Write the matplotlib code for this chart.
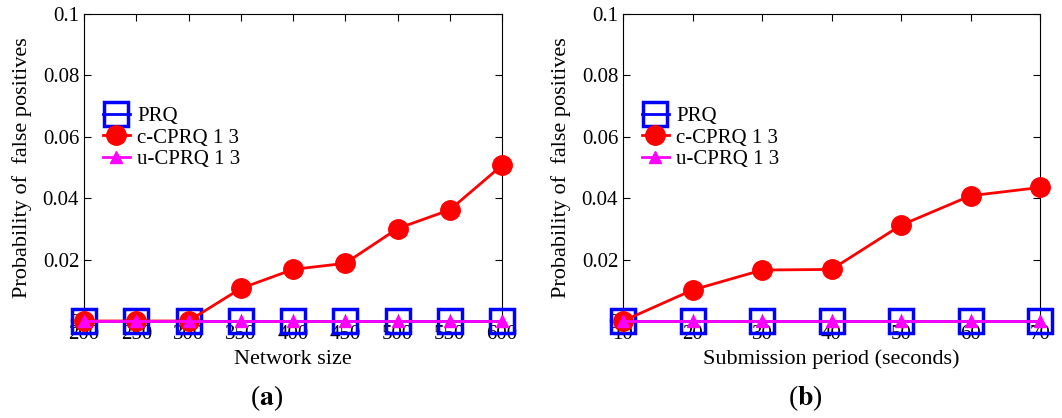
import numpy as np
import matplotlib.pyplot as plt

plt.rcParams['font.family'] = ['Liberation Serif', 'DejaVu Serif']
plt.rcParams['mathtext.fontset'] = 'stix'

# data
net_size = [200, 250, 300, 350, 400, 450, 500, 550, 600]
prq_a = [0, 0, 0, 0, 0, 0, 0, 0, 0]
ccprq_a = [0, 0, 0, 0.0106, 0.0168, 0.0188, 0.0301, 0.0362, 0.0507]
ucprq_a = [0, 0, 0, 0, 0, 0, 0, 0, 0]

period = [10, 20, 30, 40, 50, 60, 70]
prq_b = [0, 0, 0, 0, 0, 0, 0]
ccprq_b = [0, 0.0101, 0.0166, 0.0168, 0.0312, 0.0408, 0.0435]
ucprq_b = [0, 0, 0, 0, 0, 0, 0]

yticks = [0, 0.02, 0.04, 0.06, 0.08, 0.1]
ytick_labels = ['0', '0.02', '0.04', '0.06', '0.08', '0.1']

fig = plt.figure(figsize=(10.62, 4.18), dpi=100)
ax1 = fig.add_axes([84 / 1062, 1 - 321 / 418, 418 / 1062, 307 / 418])
ax2 = fig.add_axes([623 / 1062, 1 - 321 / 418, 417 / 1062, 307 / 418])


def draw(ax, x, prq, cc, uc, xlabel, tag, tag_x):
    ax.plot(x, prq, color='blue', lw=2, marker='s', ms=17, mfc='none',
            mec='blue', mew=2.5, clip_on=False, label='PRQ', zorder=3)
    ax.plot(x, cc, color='red', lw=2, marker='o', ms=14, mfc='red',
            mec='red', clip_on=False, label='c-CPRQ 1 3', zorder=4)
    ax.plot(x, uc, color='magenta', lw=2, marker='^', ms=8, mfc='magenta',
            mec='magenta', clip_on=False, label='u-CPRQ 1 3', zorder=5)
    ax.set_xlim(x[0], x[-1])
    ax.set_ylim(0, 0.1)
    ax.set_xticks(x)
    ax.set_yticks(yticks)
    ax.set_yticklabels(ytick_labels)
    ax.tick_params(direction='in', top=True, right=True, labelsize=15,
                   length=5, width=0.8)
    ax.tick_params(axis='x', pad=3)
    ax.set_xlabel(xlabel, fontsize=16, labelpad=4)
    ax.set_ylabel('Probability of  false positives', fontsize=16, labelpad=8)
    ax.legend(loc='upper left', bbox_to_anchor=(-0.015, 0.78), frameon=False,
              fontsize=15, handlelength=1.3, handletextpad=0.35,
              labelspacing=0.1, borderaxespad=0.8)
    fig.text(tag_x / 1062, 1 - 398 / 418, tag, ha='center', va='center',
             fontsize=20)


draw(ax1, net_size, prq_a, ccprq_a, ucprq_a, 'Network size',
     r'($\mathbf{a}$)', 267)
draw(ax2, period, prq_b, ccprq_b, ucprq_b, 'Submission period (seconds)',
     r'($\mathbf{b}$)', 805)

fig.savefig('out.png', dpi=100)
